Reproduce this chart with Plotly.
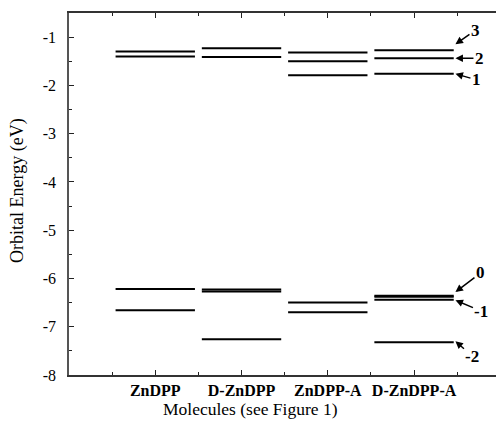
import plotly.graph_objects as go

# ---- data ----
molecules = ["ZnDPP", "D-ZnDPP", "ZnDPP-A", "D-ZnDPP-A"]
levels_ZnDPP = [-1.30, -1.40, -6.22, -6.66]
levels_D_ZnDPP = [-1.23, -1.41, -6.23, -6.27, -7.26]
levels_ZnDPP_A = [-1.32, -1.50, -1.79, -6.50, -6.70]
levels_D_ZnDPP_A = [-1.27, -1.44, -1.76, -6.36, -6.38, -6.44, -7.32]
all_levels = [levels_ZnDPP, levels_D_ZnDPP, levels_ZnDPP_A, levels_D_ZnDPP_A]

y_tickvals = [-1, -2, -3, -4, -5, -6, -7, -8]
y_ticktext = ["-1", "-2", "-3", "-4", "-5", "-6", "-7", "-8"]

# labelled orbitals of D-ZnDPP-A: (label, energy)
orbital_labels = ["3", "2", "1", "0", "-1", "-2"]
orbital_energies = [-1.145, -1.44, -1.76, -6.28, -6.45, -7.30]
label_offsets = [(20, -14), (24, 0), (21, 6), (25, -19), (26, 11), (17, 15)]

FONT = "Liberation Serif, Times New Roman, serif"
HALF = 0.46

fig = go.Figure()
for i, lv in enumerate(all_levels):
    xs, ys = [], []
    for e in lv:
        xs += [i + 1 - HALF, i + 1 + HALF, None]
        ys += [e, e, None]
    fig.add_trace(go.Scatter(x=xs, y=ys, mode="lines",
                             line=dict(color="black", width=2),
                             showlegend=False, hoverinfo="skip"))

for lab, e, (ax, ay) in zip(orbital_labels, orbital_energies, label_offsets):
    fig.add_annotation(x=4 + HALF + 0.02, y=e, xref="x", yref="y",
                       text="<b>%s</b>" % lab, showarrow=True,
                       arrowhead=2, arrowsize=1, arrowwidth=1.5,
                       arrowcolor="black", ax=ax, ay=ay,
                       font=dict(family=FONT, size=17, color="black"))

fig.add_annotation(x=0.426, y=-0.125, xref="paper", yref="paper",
                   text="Molecules (see Figure 1)", showarrow=False,
                   xanchor="center", yanchor="bottom", borderpad=0,
                   font=dict(family=FONT, size=17.5, color="black"))
fig.add_annotation(x=-0.122, y=0.511, xref="paper", yref="paper",
                   text="Orbital Energy (eV)", showarrow=False, textangle=-90,
                   xanchor="center", yanchor="middle",
                   font=dict(family=FONT, size=18, color="black"))

fig.update_xaxes(range=[0, 4.95], tickvals=[1, 2, 3, 4],
                 ticktext=["<b>%s</b>" % m for m in molecules],
                 tickangle=0, ticks="inside", ticklen=5, tickwidth=1,
                 tickcolor="#222", showline=True, linecolor="#333",
                 linewidth=1.5, mirror="ticks", showgrid=False,
                 zeroline=False, ticklabelstandoff=0,
                 minor=dict(tickvals=[0.5, 1.5, 2.5, 3.5, 4.5], ticks="inside",
                            ticklen=3, tickcolor="#222", showgrid=False),
                 tickfont=dict(family=FONT, size=16, color="black"))
fig.update_yaxes(range=[-8, -0.5], tickvals=y_tickvals, ticktext=y_ticktext,
                 ticks="inside", ticklen=5, tickwidth=1, tickcolor="#222",
                 showline=True, linecolor="#555", linewidth=1.5,
                 mirror=False, showgrid=False, zeroline=False,
                 ticklabelstandoff=8,
                 minor=dict(dtick=0.5, ticks="inside", ticklen=3,
                            tickcolor="#222", showgrid=False),
                 tickfont=dict(family=FONT, size=16, color="black"))

fig.update_layout(width=496, height=421,
                  margin=dict(l=69, r=0, t=13, b=46),
                  plot_bgcolor="white", paper_bgcolor="white")

fig.write_html("out.html", config={"displayModeBar": False},
               post_script="document.body.style.margin='0';"
                           "document.body.style.padding='0';")
